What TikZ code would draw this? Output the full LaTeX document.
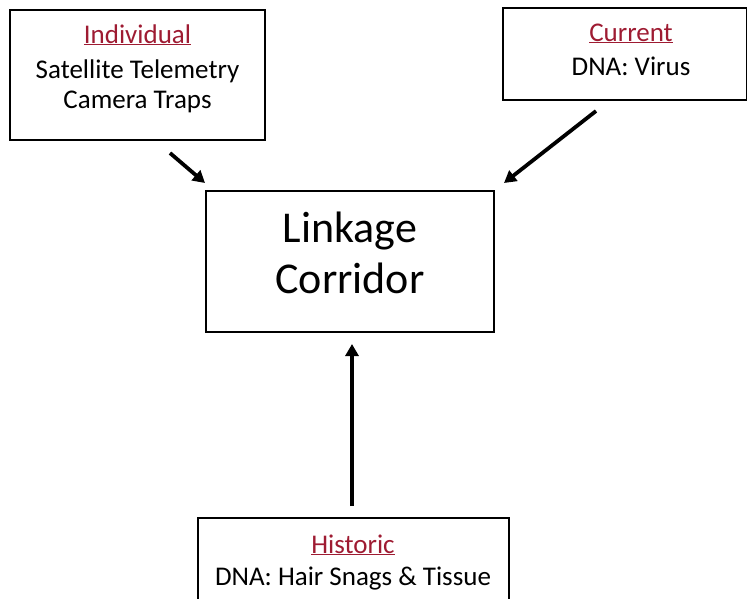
\documentclass[tikz,border=0pt]{standalone}
\usepackage{fontspec}
\setmainfont{Carlito}
\usetikzlibrary{arrows.meta}
\definecolor{titlered}{HTML}{9E1B32}
\tikzset{
  box/.style={draw=black, line width=1.4pt, rectangle, inner sep=0pt},
  lbl/.style={inner sep=0pt, anchor=base, font=\fontsize{27}{27}\selectfont},
  ttl/.style={lbl, text=titlered},
  big/.style={inner sep=0pt, anchor=base, font=\fontsize{44}{44}\selectfont},
  arr/.style={line width=3.8pt, -{Triangle[length=12pt,width=13pt]}}
}
\newcommand{\rul}[1]{\underline{#1}}
\begin{document}
\begin{tikzpicture}[x=1pt,y=-1pt]
\useasboundingbox (0,0) rectangle (747,598);
% boxes
\node[box, minimum width=255pt, minimum height=130pt] (ind) at (137.5,75) {};
\node[box, minimum width=244pt, minimum height=92pt] (cur) at (625,54) {};
\node[box, minimum width=288pt, minimum height=141pt] (link) at (350,261.5) {};
\node[box, minimum width=311pt, minimum height=110pt] (his) at (353.5,573) {};
% texts
\node[ttl] (indt) at (137.5,43) {\rul{Individual}};
\node[lbl] (ind1) at (137.5,78) {Satellite Telemetry};
\node[lbl] (ind2) at (137.5,108) {Camera Traps};
\node[ttl] (curt) at (631,41) {\rul{Current}};
\node[lbl] (cur1) at (631,75) {DNA: Virus};
\node[big] (link1) at (350,242) {Linkage};
\node[big] (link2) at (350,293) {Corridor};
\node[ttl] (hist) at (353,553) {\rul{Historic}};
\node[lbl] (his1) at (353,585) {DNA: Hair Snags \& Tissue};
% arrows
\coordinate (a1s) at (170,153);
\coordinate (a1e) at (205,183);
\coordinate (a2s) at (596,111);
\coordinate (a2e) at (504,183);
\coordinate (a3s) at (352,506);
\coordinate (a3e) at (352,344);
\draw[arr] (a1s) -- (a1e);
\draw[arr] (a2s) -- (a2e);
\draw[arr] (a3s) -- (a3e);
\end{tikzpicture}
\end{document}
